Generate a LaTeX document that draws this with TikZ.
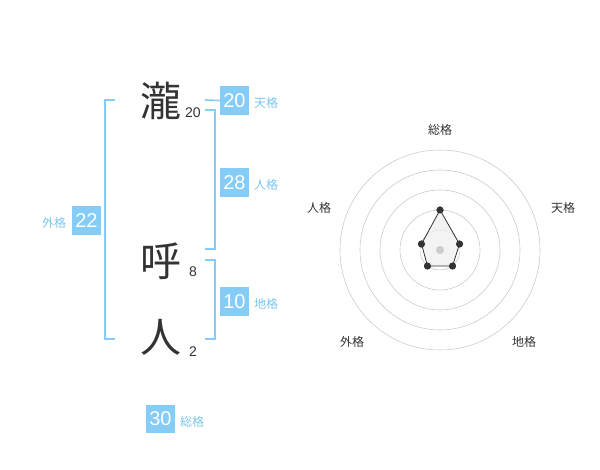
\documentclass[tikz,border=0pt]{standalone}
\usepackage{fontspec}
\setmainfont{Noto Sans CJK JP}
\newfontfamily\numfont{Liberation Sans}
\definecolor{boxblue}{HTML}{85CCF7}
\definecolor{lblblue}{HTML}{7CC6EF}
\definecolor{kgray}{HTML}{333333}
\definecolor{ringgray}{HTML}{CCCCCC}
\definecolor{polyfill}{HTML}{EEEEEE}
\begin{document}
\begin{tikzpicture}[x=1pt,y=-1pt,
  numbox/.style={fill=boxblue,text=white,minimum width=29pt,minimum height=29pt,inner sep=0pt,font=\numfont\fontsize{20}{20}\selectfont},
  lbl/.style={text=lblblue,font=\fontsize{12}{12}\selectfont,inner sep=0pt},
  kanji/.style={text=kgray,font=\fontsize{41}{41}\selectfont,inner sep=0pt},
  strk/.style={text=kgray,font=\numfont\fontsize{14}{14}\selectfont,inner sep=0pt},
  brk/.style={draw=boxblue,line width=1.6pt},
  ring/.style={draw=ringgray,line width=0.6pt},
  axl/.style={text=kgray,font=\fontsize{12}{12}\selectfont,inner sep=0pt},
  pt/.style={circle,fill=kgray,inner sep=0pt,minimum size=7pt}]
\useasboundingbox (0,0) rectangle (600,470);
% characters
\node[kanji] (k1) at (161,101) {瀧};
\node[kanji] (k2) at (161,261) {呼};
\node[kanji] (k3) at (161,337) {人};
\node[strk] (s1) at (193,113) {20};
\node[strk] (s2) at (193,272) {8};
\node[strk] (s3) at (193,352) {2};
% left bracket (外格)
\coordinate (la) at (115,100);
\coordinate (lb) at (115,339);
\draw[brk] (la) -- (105,100) -- (105,339) -- (lb);
\node[numbox] (g) at (86.5,220.5) {22};
\node[lbl] (gl) at (54,223) {外格};
% 天格
\coordinate (ta) at (205,100);
\node[numbox] (t) at (234.5,100.5) {20};
\draw[brk] (ta) -- (t.west);
\node[lbl] (tl) at (266,103) {天格};
% 人格
\coordinate (ja) at (205,110);
\coordinate (jb) at (205,249);
\draw[brk] (ja) -- (215,110) -- (215,249) -- (jb);
\node[numbox] (j) at (234.5,183) {28};
\node[lbl] (jl) at (266,185) {人格};
% 地格
\coordinate (ca) at (205,260);
\coordinate (cb) at (205,339);
\draw[brk] (ca) -- (215,260) -- (215,339) -- (cb);
\node[numbox] (c) at (234.5,302) {10};
\node[lbl] (cl) at (266,304) {地格};
% 総格
\node[numbox,minimum height=28pt] (s) at (160.5,419) {30};
\node[lbl] (sl) at (192,422) {総格};
% radar
\coordinate (o) at (440,250);
\foreach \r in {20,40,60,80,100} \draw[ring] (o) circle[radius=\r];
\node[pt] (p1) at (440,210) {};
\node[pt] (p2) at (459.5,244) {};
\node[pt] (p3) at (452.5,266) {};
\node[pt] (p4) at (427.5,266) {};
\node[pt] (p5) at (421.5,244) {};
\fill[polyfill,opacity=0.7] (p1.center) -- (p2.center) -- (p3.center) -- (p4.center) -- (p5.center) -- cycle;
\draw[kgray,line width=0.8pt] (p1.center) -- (p2.center) -- (p3.center) -- (p4.center) -- (p5.center) -- cycle;
\foreach \p in {p1,p2,p3,p4,p5} \fill[kgray] (\p) circle[radius=3.5];
\node[circle,fill=ringgray,inner sep=0pt,minimum size=8pt] (oc) at (o) {};
\node[axl] (a1) at (440,130) {総格};
\node[axl] (a2) at (563,208) {天格};
\node[axl] (a3) at (319,208) {人格};
\node[axl] (a4) at (352,342) {外格};
\node[axl] (a5) at (524,342) {地格};
\end{tikzpicture}
\end{document}
